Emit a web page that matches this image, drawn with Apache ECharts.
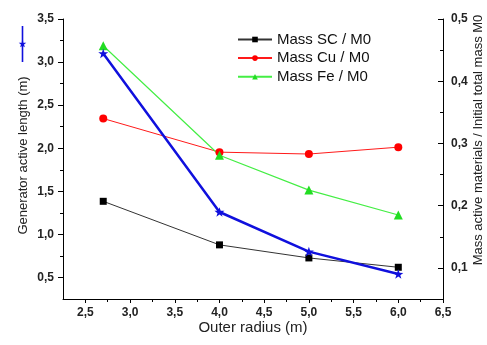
<!DOCTYPE html>
<html>
<head>
<meta charset="utf-8">
<script src="https://cdn.jsdelivr.net/npm/echarts@6/dist/echarts.min.js"></script>
<style>
html,body{margin:0;padding:0;background:#fff;}
#c{width:487px;height:345px;}
</style>
</head>
<body>
<div id="c"></div>
<script>
// ---- data ----
const radius = [2.7, 4.0, 5.0, 6.0];
const lengthM = [3.10, 1.26, 0.80, 0.54];
const massSC = [0.207, 0.137, 0.116, 0.101];
const massCu = [0.340, 0.286, 0.283, 0.294];
const massFe = [0.457, 0.281, 0.225, 0.185];

const seriesNames = ['Mass SC / M0', 'Mass Cu / M0', 'Mass Fe / M0'];
const lengthName = 'Generator active length';

// ---- tick labels ----
const xLabels = [2.5, 3.0, 3.5, 4.0, 4.5, 5.0, 5.5, 6.0, 6.5];
const xMinor = [2.75, 3.25, 3.75, 4.25, 4.75, 5.25, 5.75, 6.25];
const yLeftLabels = [0.5, 1.0, 1.5, 2.0, 2.5, 3.0, 3.5];
const yLeftMinor = [0.75, 1.25, 1.75, 2.25, 2.75, 3.25];
const yRightLabels = [0.1, 0.2, 0.3, 0.4, 0.5];
const yRightMinor = [0.15, 0.25, 0.35, 0.45];

const FONT = '"Liberation Sans", Arial, sans-serif';
const fmt = v => Number(v).toFixed(1).replace('.', ',');
const pts = (xs, ys) => xs.map((x, i) => [x, ys[i]]);

const starPath = 'path://M5 14 L5.94 16.706 L8.804 16.764 L6.522 18.494 L7.351 21.236 L5 19.6 L2.649 21.236 L3.478 18.494 L1.196 16.764 L4.06 16.706 Z';
const legendIcon = 'path://M4.2 0 L5.8 0 L5.8 14.2 L5.94 16.706 L8.804 16.764 L6.522 18.494 L7.351 21.236 L5.8 20.16 L5.8 36 L4.2 36 L4.2 20.16 L2.649 21.236 L3.478 18.494 L1.196 16.764 L4.06 16.706 L4.2 14.2 Z';

const lineAxis = {show: true, lineStyle: {color: '#000', width: 1}};
const labelStyle = {color: '#222', fontFamily: FONT, fontWeight: 'bold', fontSize: 12};

const chart = echarts.init(document.getElementById('c'), null, {renderer: 'canvas'});
chart.setOption({
  animation: false,
  backgroundColor: '#fff',
  grid: {left: 63, right: 44, top: 19, bottom: 46, containLabel: false, outerBoundsMode: 'none'},
  legend: [
    {
      data: seriesNames,
      orient: 'vertical',
      left: 232, top: 27,
      itemWidth: 34, itemHeight: 7, itemGap: 3.6,
      textStyle: {fontFamily: FONT, fontSize: 15, color: '#111', lineHeight: 14},
      selectedMode: false
    },
    {
      data: [lengthName],
      left: 13, top: 21,
      itemWidth: 9, itemHeight: 36,
      icon: legendIcon,
      formatter: () => '',
      selectedMode: false
    }
  ],
  xAxis: [
    {
      type: 'value', min: 2.25, max: 6.5, position: 'bottom',
      name: 'Outer radius (m)', nameLocation: 'middle', nameGap: 21, nameMoveOverlap: false,
      nameTextStyle: {fontFamily: FONT, fontSize: 15, color: '#222'},
      axisLine: lineAxis,
      axisTick: {show: true, length: 4, lineStyle: {color: '#000'}, customValues: xLabels},
      axisLabel: Object.assign({margin: 8, formatter: fmt, customValues: xLabels}, labelStyle),
      splitLine: {show: false}
    },
    {
      type: 'value', min: 2.25, max: 6.5, position: 'bottom',
      axisLine: {show: false},
      axisTick: {show: true, length: 3, lineStyle: {color: '#000'}, customValues: xMinor},
      axisLabel: {show: false},
      splitLine: {show: false}
    }
  ],
  yAxis: [
    {
      type: 'value', min: 0.25, max: 3.5, position: 'left',
      name: 'Generator active length (m)', nameLocation: 'middle', nameGap: 33, nameMoveOverlap: false,
      nameTextStyle: {fontFamily: FONT, fontSize: 13, color: '#222', padding: [0, 0, 0, 7]},
      axisLine: lineAxis,
      axisTick: {show: true, length: 5, lineStyle: {color: '#000'}, customValues: yLeftLabels},
      axisLabel: Object.assign({margin: 9, formatter: fmt, customValues: yLeftLabels}, labelStyle),
      splitLine: {show: false}
    },
    {
      type: 'value', min: 0.05, max: 0.5, position: 'right',
      name: 'Mass active materials / Initial total mass M0', nameLocation: 'middle', nameGap: 29, nameMoveOverlap: false,
      nameTextStyle: {fontFamily: FONT, fontSize: 13, color: '#222', padding: [0, 0, 0, 38]},
      axisLine: lineAxis,
      axisTick: {show: true, inside: true, length: 5, lineStyle: {color: '#000'}, customValues: yRightLabels},
      axisLabel: Object.assign({margin: 8, formatter: fmt, customValues: yRightLabels}, labelStyle),
      splitLine: {show: false}
    },
    {
      type: 'value', min: 0.25, max: 3.5, position: 'left',
      axisLine: {show: false},
      axisTick: {show: true, length: 3, lineStyle: {color: '#000'}, customValues: yLeftMinor},
      axisLabel: {show: false},
      splitLine: {show: false}
    },
    {
      type: 'value', min: 0.05, max: 0.5, position: 'right',
      axisLine: {show: false},
      axisTick: {show: true, inside: true, length: 3, lineStyle: {color: '#000'}, customValues: yRightMinor},
      axisLabel: {show: false},
      splitLine: {show: false}
    }
  ],
  series: [
    {
      name: seriesNames[0], type: 'line', yAxisIndex: 1,
      data: pts(radius, massSC),
      symbol: 'rect', symbolSize: 7,
      lineStyle: {color: '#333', width: 1},
      itemStyle: {color: '#000'}
    },
    {
      name: seriesNames[1], type: 'line', yAxisIndex: 1,
      data: pts(radius, massCu),
      symbol: 'circle', symbolSize: 8,
      lineStyle: {color: '#ff1a1a', width: 1},
      itemStyle: {color: '#ff0000'}
    },
    {
      name: seriesNames[2], type: 'line', yAxisIndex: 1,
      data: pts(radius, massFe),
      symbol: 'triangle', symbolSize: 9,
      lineStyle: {color: '#44ee44', width: 1.2},
      itemStyle: {color: '#22dd22'}
    },
    {
      name: lengthName, type: 'line', yAxisIndex: 0,
      data: pts(radius, lengthM),
      symbol: starPath, symbolSize: [10, 9.5],
      lineStyle: {color: '#1010dd', width: 2.5},
      itemStyle: {color: '#1010dd'}
    }
  ]
});
</script>
</body>
</html>
